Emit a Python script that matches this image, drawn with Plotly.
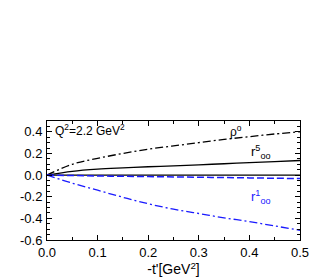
import plotly.graph_objects as go

t = [0.0, 0.05, 0.1, 0.15, 0.2, 0.25, 0.3, 0.35, 0.4, 0.45, 0.5]
rho0 = [0.0, 0.10, 0.155, 0.20, 0.24, 0.27, 0.30, 0.33, 0.355, 0.38, 0.40]
r5_00 = [0.0, 0.035, 0.055, 0.067, 0.077, 0.086, 0.095, 0.105, 0.115, 0.125, 0.135]
r1_00 = [0.0, -0.004, -0.008, -0.011, -0.014, -0.017, -0.020, -0.023, -0.026, -0.029, -0.032]
r1_dd = [0.0, -0.075, -0.14, -0.205, -0.265, -0.315, -0.355, -0.395, -0.43, -0.47, -0.51]

font = "Liberation Sans, Arial, sans-serif"
blue = "#1a1aff"
fig = go.Figure()
fig.add_trace(go.Scatter(x=[0, 0.5], y=[0, 0], mode="lines", line=dict(color="black", width=1.2)))
fig.add_trace(go.Scatter(x=t, y=rho0, mode="lines", line=dict(color="black", width=1.3, dash="8px,3px,2px,3px", shape="spline")))
fig.add_trace(go.Scatter(x=t, y=r5_00, mode="lines", line=dict(color="black", width=1.3, shape="spline")))
fig.add_trace(go.Scatter(x=t, y=r1_00, mode="lines", line=dict(color=blue, width=1.5, dash="7px,3px", shape="spline")))
fig.add_trace(go.Scatter(x=t, y=r1_dd, mode="lines", line=dict(color=blue, width=1.3, dash="8px,3px,2px,3px", shape="spline")))

axis_common = dict(showline=True, linecolor="black", linewidth=1, mirror="allticks",
                   ticks="inside", ticklen=5, tickcolor="black", showgrid=False, zeroline=False,
                   tickfont=dict(family=font, size=13, color="black"))
fig.update_xaxes(range=[0, 0.5], tickvals=[0, 0.1, 0.2, 0.3, 0.4, 0.5],
                 ticktext=["0.0", "0.1", "0.2", "0.3", "0.4", "0.5"],
                 minor=dict(ticks="inside", ticklen=3, dtick=0.05, tickcolor="black"),
                 title=dict(text="-t'[GeV<sup>2</sup>]", font=dict(family=font, size=14, color="black"), standoff=5),
                 ticklabelstandoff=0, **axis_common)
fig.update_yaxes(range=[-0.6, 0.5], tickvals=[-0.6, -0.4, -0.2, 0.0, 0.2, 0.4],
                 ticktext=["-0.6", "-0.4", "-0.2", "0.0", "0.2", "0.4"],
                 minor=dict(ticks="inside", ticklen=3, dtick=0.05, tickcolor="black"),
                 ticklabelstandoff=1, **axis_common)

fig.add_annotation(x=0.012, y=0.415, xanchor="left", yanchor="middle", showarrow=False,
                   text="Q<sup>2</sup>=2.2 GeV<sup>2</sup>", font=dict(family=font, size=12, color="black"))
fig.add_annotation(x=0.358, y=0.41, xanchor="left", yanchor="middle", showarrow=False,
                   text="ρ<sup>o</sup>", font=dict(family=font, size=12, color="black"))
fig.add_annotation(x=0.4, y=0.215, xanchor="left", yanchor="middle", showarrow=False,
                   text="r<sup>5</sup><sub>oo</sub>", font=dict(family=font, size=13, color="black"))
fig.add_annotation(x=0.4, y=-0.2, xanchor="left", yanchor="middle", showarrow=False,
                   text="r<sup>1</sup><sub>oo</sub>", font=dict(family=font, size=13, color=blue))

fig.update_layout(width=333, height=278, margin=dict(l=36, r=41, t=113, b=36),
                  paper_bgcolor="white", plot_bgcolor="white", showlegend=False)
fig.write_html("out.html")
